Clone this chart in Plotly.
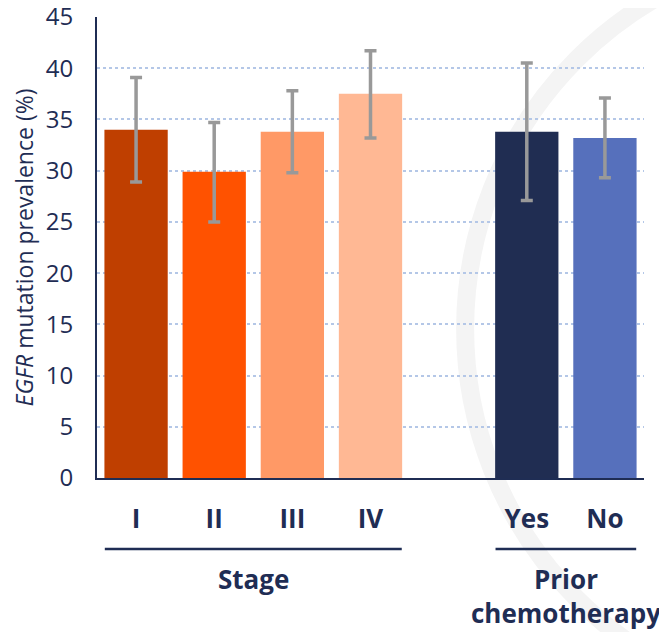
import plotly.graph_objects as go

categories = ["I", "II", "III", "IV", "Yes", "No"]
positions = [0, 1, 2, 3, 5, 6]
values = [34.0, 29.9, 33.8, 37.5, 33.8, 33.2]
err_low = [28.9, 25.0, 29.8, 33.2, 27.1, 29.3]
err_high = [39.1, 34.7, 37.8, 41.7, 40.5, 37.1]
colors = ["#BF3F00", "#FF5200", "#FF9966", "#FFB894", "#202D52", "#5670BC"]
groups = [("Stage", 0, 3), ("Prior<br>chemotherapy", 5, 6)]
y_ticks = [0, 5, 10, 15, 20, 25, 30, 35, 40, 45]

navy = "#1F2D54"
font = "Open Sans"

fig = go.Figure()
fig.add_trace(go.Bar(
    x=positions, y=values, width=0.81,
    marker=dict(color=colors, line=dict(width=0)),
    error_y=dict(type="data", symmetric=False,
                 array=[h - v for h, v in zip(err_high, values)],
                 arrayminus=[v - l for v, l in zip(values, err_low)],
                 color="#999999", thickness=3.5, width=6),
    showlegend=False,
))

fig.update_layout(
    width=659, height=624,
    margin=dict(l=89, r=23, t=9, b=154, autoexpand=False),
    plot_bgcolor="rgba(0,0,0,0)", paper_bgcolor="white",
    font=dict(family=font, color=navy),
    xaxis=dict(range=[-0.5, 6.5], tickvals=positions, ticktext=["<b>%s</b>" % c for c in categories],
               tickfont=dict(size=26, color=navy, family=font), ticks="", ticklabelstandoff=17,
               automargin=False,
               showgrid=False, zeroline=False, showline=True, linecolor=navy, linewidth=2),
    yaxis=dict(range=[0, 45], tickvals=y_ticks, tickfont=dict(size=24, color=navy, family=font),
               showgrid=True, gridcolor="#B4C7E7", griddash="dot", gridwidth=1.5,
               zeroline=False, showline=True, linecolor=navy, linewidth=2, ticks="",
               ticklabelstandoff=17, automargin=False, ticklabeloverflow="allow",
               title=dict(text="<i>EGFR</i> mutation prevalence (%)", font=dict(size=23, color=navy, family=font),
                          standoff=8)),
)

# faint watermark ring
fig.add_shape(type="circle", xref="paper", yref="paper", x0=0.673, x1=2.07, y0=-0.505, y1=1.152,
              line=dict(color="#F4F4F4", width=18), layer="below")

for name, a, b in groups:
    fig.add_shape(type="line", xref="x", yref="paper", x0=a - 0.4, x1=b + 0.4, y0=-0.154, y1=-0.154,
                  line=dict(color=navy, width=2.5))
    fig.add_annotation(text="<b>%s</b>" % name, xref="x", yref="paper", x=(a + b) / 2, y=-0.176,
                       yanchor="top", showarrow=False, font=dict(size=26, color=navy, family=font),
                       align="center")

fig.write_html("out.html")
